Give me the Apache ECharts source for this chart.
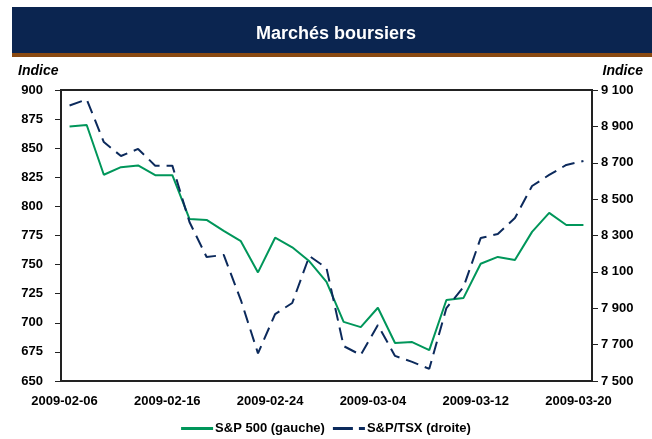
<!DOCTYPE html>
<html>
<head>
<meta charset="utf-8">
<script src="https://cdn.jsdelivr.net/npm/echarts@6/dist/echarts.min.js"></script>
<style>
html,body{margin:0;padding:0;background:#fff;}
#chart{width:652px;height:439px;}
</style>
</head>
<body>
<div id="chart"></div>
<script>
var dates = ['2009-02-06','2009-02-09','2009-02-10','2009-02-11','2009-02-12','2009-02-13','2009-02-16','2009-02-17','2009-02-18','2009-02-19','2009-02-20','2009-02-23','2009-02-24','2009-02-25','2009-02-26','2009-02-27','2009-03-02','2009-03-03','2009-03-04','2009-03-05','2009-03-06','2009-03-09','2009-03-10','2009-03-11','2009-03-12','2009-03-13','2009-03-16','2009-03-17','2009-03-18','2009-03-19','2009-03-20'];
var sp500 = [868.6,869.9,827.2,833.7,835.2,826.8,826.8,789.2,788.4,778.9,770.1,743.3,773.1,764.9,752.8,735.1,700.8,696.3,712.9,682.6,683.4,676.5,719.6,721.4,750.7,756.6,753.9,778.1,794.4,784.0,784.0];
var tsx = [9015,9048,8814,8737,8776,8684,8684,8374,8182,8193,7945,7652,7868,7929,8187,8121,7692,7643,7808,7638,7605,7567,7901,8017,8286,8308,8396,8572,8633,8688,8710];
var seriesNames = ['S&P 500 (gauche)','S&P/TSX (droite)'];
var titleText = 'Marchés boursiers';
var axisName = 'Indice';

var chart = echarts.init(document.getElementById('chart'));
var font = 'Liberation Sans, Arial, sans-serif';
var option = {
  animation: false,
  title: {
    text: titleText, left: 331, top: 20, textAlign: 'center',
    textStyle: {color:'#fff', fontFamily: font, fontSize: 18, fontWeight: 'bold'}
  },
  graphic: [
    {type:'rect', shape:{x:12,y:7,width:640,height:46}, style:{fill:'#0b2550'}, z:-1},
    {type:'rect', shape:{x:12,y:53,width:640,height:4}, style:{fill:'#8a4a12'}, z:-1},
    {type:'text', left:18, top:64, style:{text:axisName, font:'italic bold 14px Liberation Sans', fill:'#000'}},
    {type:'text', right:9, top:64, style:{text:axisName, font:'italic bold 14px Liberation Sans', fill:'#000'}}
  ],
  grid: {left:61, right:60, top:90, bottom:58, show:true, borderColor:'#222', borderWidth:2, backgroundColor:'transparent'},
  legend: {
    top: 417, left: 'center', itemGap: 8, itemWidth: 32, itemHeight: 3,
    textStyle: {fontFamily: font, fontSize: 13, fontWeight:'bold', color:'#000', padding:[0,0,0,-3]},
    data: [
      {name: seriesNames[0], icon: 'path://M0,0H32V3H0Z'},
      {name: seriesNames[1], icon: 'path://M0,0H20V3H0Z M26,0H32V3H26Z'}
    ]
  },
  xAxis: {
    type:'category', data: dates, boundaryGap: true,
    axisLine:{lineStyle:{color:'#222', width:2}},
    axisTick:{show:false},
    axisLabel:{interval:5, margin:14, padding:[0,10,0,0], fontFamily:font, fontSize:13, fontWeight:'bold', color:'#000'}
  },
  yAxis: [
    {type:'value', min:650, max:900, interval:25, position:'left',
     axisLine:{show:true, lineStyle:{color:'#222', width:2}},
     axisTick:{show:true, length:6, lineStyle:{color:'#222'}},
     splitLine:{show:false},
     axisLabel:{margin:18, fontFamily:font, fontSize:13, fontWeight:'bold', color:'#000'}},
    {type:'value', min:7500, max:9100, interval:200, position:'right',
     axisLine:{show:true, lineStyle:{color:'#222', width:2}},
     axisTick:{show:true, length:6, lineStyle:{color:'#222'}},
     splitLine:{show:false},
     axisLabel:{margin:9, fontFamily:font, fontSize:13, fontWeight:'bold', color:'#000',
       formatter:function(v){return String(v).replace(/\B(?=(\d{3})+(?!\d))/g,' ');}}}
  ],
  series: [
    {name:seriesNames[0], type:'line', yAxisIndex:0, data:sp500, showSymbol:false, symbol:'none',
     lineStyle:{color:'#00965a', width:2}, itemStyle:{color:'#00965a'}},
    {name:seriesNames[1], type:'line', yAxisIndex:1, data:tsx, showSymbol:false, symbol:'none',
     lineStyle:{color:'#0c2a5c', width:2, type:[13,7]}, itemStyle:{color:'#0c2a5c'}}
  ]
};
chart.setOption(option);
</script>
</body>
</html>
